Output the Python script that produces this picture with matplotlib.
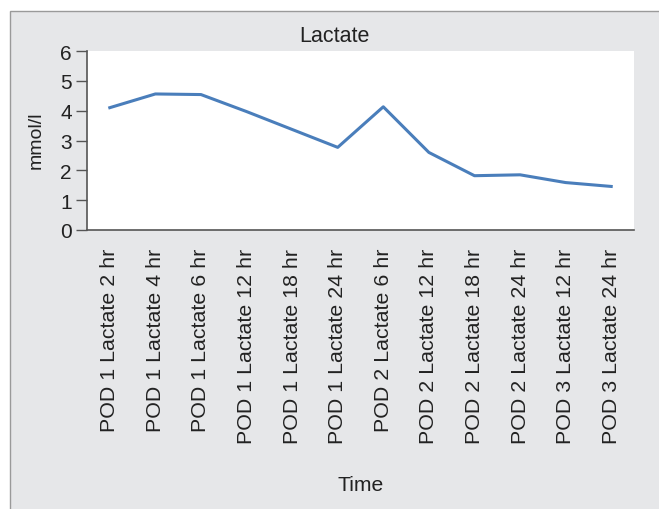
import matplotlib.pyplot as plt
from matplotlib.patches import Rectangle

plt.rcParams['font.family'] = ['Liberation Sans', 'DejaVu Sans']

categories = [
    "POD 1 Lactate 2 hr", "POD 1 Lactate 4 hr", "POD 1 Lactate 6 hr",
    "POD 1 Lactate 12 hr", "POD 1 Lactate 18 hr", "POD 1 Lactate 24 hr",
    "POD 2 Lactate 6 hr", "POD 2 Lactate 12 hr", "POD 2 Lactate 18 hr",
    "POD 2 Lactate 24 hr", "POD 3 Lactate 12 hr", "POD 3 Lactate 24 hr",
]
lactate = [4.10, 4.56, 4.54, 3.97, 3.37, 2.77, 4.13, 2.60, 1.82, 1.85, 1.59, 1.46]
yticks = [0, 1, 2, 3, 4, 5, 6]

fig = plt.figure(figsize=(6.59, 5.10), dpi=100)
fig.patch.set_facecolor('white')

# grey chart frame (behind the axes)
bg = Rectangle((10 / 659, -0.05), 1.0, 0.05 + (510 - 12) / 510,
               transform=fig.transFigure, facecolor='#e6e7e9',
               edgecolor='#9a9a9a', linewidth=1.0, zorder=-10)
fig.patches.append(bg)

ax = fig.add_axes([87 / 659, (510 - 231) / 510, 547 / 659, 179 / 510])
ax.set_facecolor('white')

x = list(range(len(categories)))
ax.plot(x, lactate, color='#4a7ebb', linewidth=2.2)

ax.set_xlim(-0.5, len(categories) - 0.5)
ax.set_ylim(0, 6)
ax.set_yticks(yticks)
ax.set_xticks(x)
ax.set_xticklabels(categories, rotation=90, fontsize=15.4, color='#222222')
ax.tick_params(axis='x', length=0, pad=13)
ax.tick_params(axis='y', length=8, width=1, color='#555555', labelsize=15,
               labelcolor='#222222', pad=3)

for s in ['top', 'right']:
    ax.spines[s].set_visible(False)
for s in ['left', 'bottom']:
    ax.spines[s].set_color('#555555')
    ax.spines[s].set_linewidth(1.2)

fig.text(36.5 / 659, 1 - 140 / 510, 'mmol/l', rotation=90, ha='center',
         va='center', fontsize=14, color='#222222')
fig.text(334.5 / 659, 1 - 36 / 510, 'Lactate', ha='center', va='center',
         fontsize=15.5, color='#222222')
fig.text(360.5 / 659, 1 - 486 / 510, 'Time', ha='center', va='center',
         fontsize=15.2, color='#222222')

fig.savefig('out.png', dpi=100)
